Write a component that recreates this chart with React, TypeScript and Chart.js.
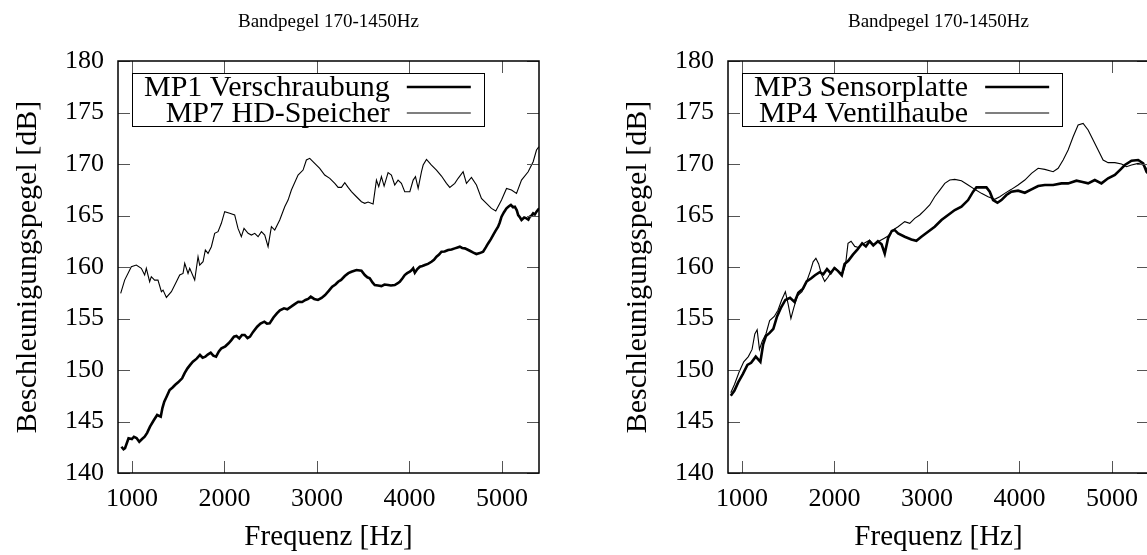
import React, { useEffect, useRef } from "react";
import { Chart, registerables } from "chart.js";

Chart.register(...registerables);

const FONT = '"Liberation Serif", "Times New Roman", serif';

const TITLE = "Bandpegel 170-1450Hz";
const X_LABEL = "Frequenz [Hz]";
const Y_LABEL = "Beschleunigungspegel [dB]";
const X_TICKS = [1000, 2000, 3000, 4000, 5000];
const Y_TICKS = [140, 145, 150, 155, 160, 165, 170, 175, 180];
const X_MIN = 850;
const X_MAX = 5400;
const Y_MIN = 140;
const Y_MAX = 180;

// ---- Left chart ----
const MP1_LABEL = "MP1 Verschraubung";
const mp1Freq = [887, 910, 926, 964, 1000, 1022, 1050, 1080, 1110, 1138, 1165, 1196, 1235, 1273, 1312, 1330, 1350, 1380, 1408, 1440, 1466, 1500, 1543, 1570, 1601, 1630, 1659, 1700, 1736, 1765, 1794, 1820, 1852, 1880, 1910, 1940, 1968, 2010, 2045, 2075, 2103, 2130, 2161, 2190, 2219, 2250, 2277, 2310, 2354, 2390, 2432, 2460, 2489, 2530, 2567, 2600, 2644, 2680, 2721, 2760, 2798, 2840, 2876, 2905, 2933, 2970, 3011, 3050, 3088, 3130, 3165, 3200, 3229, 3261, 3301, 3340, 3373, 3427, 3481, 3517, 3545, 3571, 3600, 3625, 3660, 3697, 3730, 3769, 3800, 3841, 3870, 3895, 3925, 3949, 3975, 4004, 4025, 4040, 4058, 4085, 4112, 4140, 4166, 4200, 4238, 4265, 4292, 4320, 4346, 4380, 4418, 4455, 4490, 4520, 4544, 4570, 4598, 4625, 4652, 4690, 4724, 4760, 4796, 4825, 4850, 4880, 4904, 4930, 4958, 4975, 4995, 5020, 5049, 5075, 5096, 5120, 5139, 5160, 5175, 5195, 5211, 5240, 5265, 5285, 5301, 5320, 5337, 5355, 5373, 5402];
const mp1Level = [142.55, 142.3, 142.4, 143.37, 143.3, 143.52, 143.4, 143.04, 143.3, 143.52, 143.9, 144.5, 145.1, 145.63, 145.47, 146.3, 146.92, 147.5, 148.06, 148.3, 148.54, 148.8, 149.19, 149.7, 150.16, 150.5, 150.81, 151.1, 151.46, 151.2, 151.29, 151.5, 151.68, 151.4, 151.29, 151.8, 152.11, 152.3, 152.59, 152.9, 153.24, 153.3, 153.07, 153.4, 153.4, 153.1, 153.24, 153.7, 154.2, 154.5, 154.69, 154.5, 154.53, 155.1, 155.5, 155.8, 155.99, 155.9, 156.15, 156.4, 156.63, 156.6, 156.8, 156.9, 157.12, 156.9, 156.8, 157.0, 157.28, 157.7, 158.09, 158.3, 158.57, 158.74, 159.12, 159.4, 159.54, 159.71, 159.64, 159.22, 159.0, 158.9, 158.5, 158.25, 158.2, 158.15, 158.3, 158.25, 158.2, 158.25, 158.4, 158.57, 158.9, 159.22, 159.4, 159.54, 159.7, 159.87, 159.45, 159.8, 160.03, 160.1, 160.19, 160.3, 160.51, 160.7, 161.0, 161.2, 161.48, 161.5, 161.65, 161.7, 161.81, 161.9, 161.97, 161.85, 161.81, 161.7, 161.58, 161.4, 161.26, 161.35, 161.48, 161.9, 162.29, 162.7, 163.1, 163.5, 163.91, 164.3, 164.88, 165.3, 165.69, 165.9, 166.02, 165.8, 165.85, 165.5, 165.04, 164.8, 164.56, 164.8, 164.72, 164.6, 164.88, 165.0, 165.21, 165.1, 165.37, 165.69];

const MP7_LABEL = "MP7 HD-Speicher";
const mp7Freq = [879, 922, 994, 1048, 1102, 1138, 1156, 1192, 1210, 1246, 1282, 1319, 1337, 1373, 1427, 1481, 1517, 1553, 1571, 1607, 1625, 1679, 1715, 1733, 1769, 1794, 1823, 1859, 1895, 1931, 1967, 2003, 2057, 2111, 2147, 2183, 2212, 2256, 2292, 2328, 2364, 2400, 2436, 2472, 2508, 2544, 2598, 2652, 2688, 2724, 2796, 2850, 2886, 2922, 2976, 3030, 3084, 3139, 3193, 3229, 3265, 3301, 3337, 3373, 3427, 3481, 3517, 3553, 3607, 3643, 3668, 3697, 3726, 3769, 3805, 3841, 3877, 3913, 3949, 4004, 4040, 4065, 4094, 4130, 4148, 4184, 4238, 4292, 4346, 4400, 4436, 4490, 4526, 4580, 4616, 4670, 4724, 4778, 4832, 4886, 4933, 4995, 5049, 5103, 5157, 5211, 5283, 5337, 5373, 5398];
const mp7Level = [157.44, 158.73, 160.03, 160.19, 159.87, 159.22, 159.87, 158.57, 159.06, 158.73, 158.73, 157.6, 157.76, 157.05, 157.6, 158.57, 159.22, 159.38, 160.35, 159.38, 159.87, 158.73, 161.0, 160.19, 160.51, 161.65, 161.32, 161.97, 163.27, 163.43, 164.24, 165.37, 165.21, 165.05, 163.75, 162.94, 163.75, 163.27, 163.1, 163.27, 162.94, 163.43, 163.1, 161.97, 163.91, 163.59, 164.56, 165.85, 166.5, 167.47, 168.93, 169.41, 170.39, 170.55, 170.06, 169.58, 168.93, 168.61, 168.12, 167.73, 167.73, 168.18, 167.73, 167.31, 166.82, 166.34, 166.18, 166.31, 166.11, 168.44, 167.8, 168.77, 167.86, 169.16, 168.93, 167.96, 168.44, 168.12, 167.31, 167.31, 168.44, 168.77, 167.63, 169.25, 169.9, 170.45, 169.9, 169.41, 168.83, 168.12, 167.73, 168.12, 168.61, 169.25, 168.12, 168.7, 167.96, 166.66, 166.18, 165.69, 165.43, 166.5, 167.63, 167.47, 167.15, 168.44, 169.25, 170.22, 171.36, 171.68];

// ---- Right chart ----
const MP3_LABEL = "MP3 Sensorplatte";
const mp3Freq = [880, 920, 960, 1010, 1060, 1100, 1150, 1200, 1230, 1260, 1300, 1340, 1380, 1420, 1470, 1520, 1570, 1610, 1660, 1700, 1750, 1790, 1840, 1880, 1920, 1960, 2000, 2040, 2080, 2110, 2150, 2200, 2250, 2300, 2340, 2380, 2420, 2470, 2510, 2544, 2580, 2620, 2650, 2688, 2760, 2832, 2886, 2940, 3012, 3084, 3157, 3229, 3301, 3373, 3445, 3499, 3535, 3589, 3643, 3679, 3715, 3762, 3805, 3859, 3913, 3985, 4058, 4130, 4202, 4274, 4364, 4454, 4526, 4616, 4670, 4742, 4814, 4886, 4958, 5031, 5085, 5139, 5211, 5283, 5337, 5373, 5400];
const mp3Level = [147.5, 148.0, 148.8, 149.6, 150.5, 150.7, 151.3, 150.8, 152.5, 153.3, 153.6, 154.0, 155.2, 156.0, 156.8, 157.0, 156.6, 157.5, 157.9, 158.6, 158.9, 159.2, 159.5, 159.3, 159.8, 159.4, 159.9, 159.6, 159.2, 160.3, 160.6, 161.2, 161.7, 162.3, 162.0, 162.5, 162.1, 162.5, 162.2, 161.3, 162.8, 163.5, 163.6, 163.27, 162.94, 162.68, 162.55, 162.94, 163.43, 163.91, 164.56, 165.05, 165.53, 165.85, 166.5, 167.31, 167.73, 167.73, 167.73, 167.31, 166.5, 166.24, 166.5, 166.99, 167.31, 167.41, 167.21, 167.54, 167.86, 167.96, 167.96, 168.12, 168.12, 168.38, 168.28, 168.12, 168.44, 168.12, 168.61, 168.93, 169.41, 169.9, 170.32, 170.39, 170.06, 169.25, 169.0];

const MP4_LABEL = "MP4 Ventilhaube";
const mp4Freq = [880, 920, 970, 1020, 1070, 1110, 1140, 1165, 1190, 1220, 1260, 1300, 1350, 1390, 1430, 1470, 1500, 1530, 1560, 1600, 1650, 1700, 1740, 1770, 1800, 1830, 1860, 1895, 1930, 1970, 2010, 2050, 2090, 2120, 2147, 2180, 2220, 2260, 2300, 2340, 2380, 2420, 2460, 2500, 2540, 2580, 2634, 2688, 2760, 2814, 2868, 2922, 2976, 3030, 3084, 3139, 3193, 3247, 3301, 3373, 3445, 3517, 3589, 3661, 3733, 3787, 3841, 3913, 3985, 4058, 4130, 4202, 4274, 4364, 4418, 4472, 4526, 4580, 4634, 4688, 4742, 4796, 4850, 4904, 4958, 5031, 5103, 5157, 5211, 5283, 5337, 5373, 5400];
const mp4Level = [147.8, 148.6, 149.8, 150.8, 151.3, 152.0, 153.5, 153.9, 152.0, 152.8, 153.5, 154.8, 155.2, 155.8, 156.8, 157.6, 156.4, 155.0, 156.0, 157.2, 157.6, 158.6, 159.6, 160.5, 160.84, 160.3, 159.3, 158.6, 159.0, 159.6, 159.9, 159.5, 159.4, 160.2, 162.29, 162.5, 162.0, 161.9, 162.2, 162.4, 162.6, 162.2, 162.4, 162.6, 162.8, 163.0, 163.59, 163.91, 164.4, 164.24, 164.72, 165.05, 165.53, 166.02, 166.82, 167.47, 168.12, 168.44, 168.51, 168.38, 167.96, 167.54, 167.15, 166.82, 166.57, 166.82, 167.15, 167.54, 167.96, 168.44, 169.09, 169.58, 169.48, 169.25, 169.58, 170.39, 171.36, 172.65, 173.78, 173.94, 173.3, 172.33, 171.36, 170.39, 170.13, 170.13, 170.0, 169.74, 169.9, 170.06, 169.9, 169.58, 169.4];

const toPoints = (xs: number[], ys: number[]) => xs.map((x, i) => ({ x, y: ys[i] }));

const gnuplotFrame = {
  id: "gnuplotFrame",
  afterDraw(chart: any) {
    const { ctx, chartArea: a } = chart;
    // plot title, centred over the plot area
    ctx.save();
    ctx.fillStyle = "#000";
    ctx.font = `19px ${FONT}`;
    ctx.textAlign = "center";
    ctx.textBaseline = "middle";
    ctx.fillText(TITLE, (a.left + a.right) / 2, 22);
    ctx.restore();
  },
  afterDatasetsDraw(chart: any) {
    const { ctx, chartArea: a, scales } = chart;
    const L = 12;
    ctx.save();
    ctx.strokeStyle = "#555";
    ctx.lineWidth = 1;
    const seg = (x1: number, y1: number, x2: number, y2: number) => {
      ctx.beginPath();
      ctx.moveTo(x1, y1);
      ctx.lineTo(x2, y2);
      ctx.stroke();
    };
    for (const v of X_TICKS) {
      const px = Math.round(scales.x.getPixelForValue(v)) + 0.5;
      seg(px, a.bottom, px, a.bottom - L);
      seg(px, a.top, px, a.top + L);
    }
    for (const v of Y_TICKS) {
      const py = Math.round(scales.y.getPixelForValue(v)) + 0.5;
      seg(a.left, py, a.left + L, py);
      seg(a.right, py, a.right - L, py);
    }
    ctx.strokeStyle = "#000";
    ctx.lineWidth = 1.5;
    ctx.strokeRect(a.left, a.top, a.right - a.left, a.bottom - a.top);

    // gnuplot-style key: right-aligned text followed by line sample
    const ds = chart.data.datasets;
    ctx.font = `30px ${FONT}`;
    let maxW = 0;
    for (const d of ds) maxW = Math.max(maxW, ctx.measureText(d.label).width);
    const boxL = a.left + 14;
    const boxT = a.top + 12;
    const textR = boxL + 12 + maxW;
    const sampL = textR + 17;
    const sampR = sampL + 64;
    const boxR = sampR + 13;
    const boxB = boxT + 53;
    ctx.strokeStyle = "#000";
    ctx.lineWidth = 1;
    ctx.strokeRect(Math.round(boxL) + 0.5, Math.round(boxT) + 0.5, Math.round(boxR - boxL), Math.round(boxB - boxT));
    ctx.fillStyle = "#000";
    ctx.textAlign = "right";
    ctx.textBaseline = "middle";
    ds.forEach((d: any, i: number) => {
      const cy = boxT + 14 + i * 26;
      ctx.fillText(d.label, textR, cy + 1);
      ctx.lineWidth = d.borderWidth;
      ctx.strokeStyle = d.borderColor;
      ctx.beginPath();
      ctx.moveTo(sampL, cy);
      ctx.lineTo(sampR, cy);
      ctx.stroke();
    });
    ctx.restore();
  },
};

function makeConfig(series: { label: string; data: { x: number; y: number }[]; width: number }[]) {
  const tickFont = { family: FONT, size: 26, weight: "normal" as const };
  const titleFont = { family: FONT, size: 29, weight: "normal" as const };
  const yTitleFont = { family: FONT, size: 30, weight: "normal" as const };
  return {
    type: "line" as const,
    data: {
      datasets: series.map((s) => ({
        label: s.label,
        data: s.data,
        borderColor: "#000",
        borderWidth: s.width,
        pointRadius: 0,
        tension: 0,
        fill: false,
      })),
    },
    options: {
      responsive: false,
      animation: false as const,
      layout: { padding: { left: 0, right: 71, top: 61, bottom: 0 } },
      plugins: {
        legend: { display: false },
        tooltip: { enabled: false },
        title: { display: false },
      },
      scales: {
        x: {
          type: "linear" as const,
          min: X_MIN,
          max: X_MAX,
          afterBuildTicks: (s: any) => {
            s.ticks = X_TICKS.map((v) => ({ value: v }));
          },
          afterFit: (s: any) => {
            s.height = 82;
          },
          grid: { display: false, drawTicks: false },
          border: { display: false },
          ticks: {
            padding: 11,
            color: "#000",
            font: tickFont,
            maxRotation: 0,
            autoSkip: false,
            callback: (v: any) => String(v),
          },
          title: { display: true, text: X_LABEL, color: "#000", font: titleFont, padding: { top: 0, bottom: 0 } },
        },
        y: {
          type: "linear" as const,
          min: Y_MIN,
          max: Y_MAX,
          afterBuildTicks: (s: any) => {
            s.ticks = Y_TICKS.map((v) => ({ value: v }));
          },
          afterFit: (s: any) => {
            s.width = 118;
          },
          grid: { display: false, drawTicks: false },
          border: { display: false },
          ticks: {
            padding: 14,
            color: "#000",
            font: tickFont,
            autoSkip: false,
            callback: (v: any) => String(v),
          },
          title: { display: true, text: Y_LABEL, color: "#000", font: yTitleFont, padding: { top: 10, bottom: 0 } },
        },
      },
    },
    plugins: [gnuplotFrame],
  };
}

function Panel({ series, left }: { series: any[]; left: number }) {
  const ref = useRef<HTMLCanvasElement | null>(null);
  useEffect(() => {
    if (!ref.current) return;
    const chart = new Chart(ref.current, makeConfig(series) as any);
    return () => chart.destroy();
  }, []);
  return (
    <div style={{ position: "absolute", left, top: 0, width: 610, height: 555 }}>
      <canvas ref={ref} width={610} height={555} style={{ display: "block" }} />
    </div>
  );
}

export default function App() {
  const leftSeries = [
    { label: MP1_LABEL, data: toPoints(mp1Freq, mp1Level), width: 2.6 },
    { label: MP7_LABEL, data: toPoints(mp7Freq, mp7Level), width: 1.1 },
  ];
  const rightSeries = [
    { label: MP3_LABEL, data: toPoints(mp3Freq, mp3Level), width: 2.6 },
    { label: MP4_LABEL, data: toPoints(mp4Freq, mp4Level), width: 1.1 },
  ];
  return (
    <div
      style={{
        position: "fixed",
        left: 0,
        top: 0,
        width: 1147,
        height: 555,
        overflow: "hidden",
        background: "#fff",
      }}
    >
      <Panel series={leftSeries} left={0} />
      <Panel series={rightSeries} left={610} />
    </div>
  );
}
